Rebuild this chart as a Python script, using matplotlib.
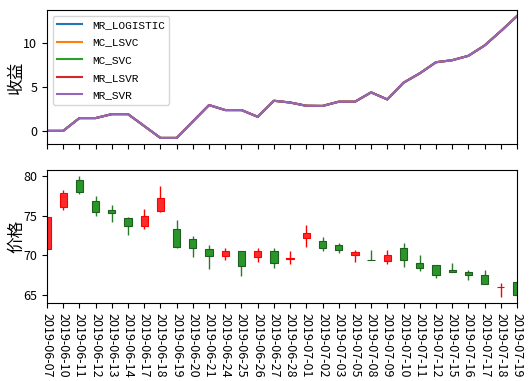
import matplotlib
matplotlib.use("Agg")
import matplotlib.pyplot as plt
import numpy as np

plt.rcParams['font.family'] = ['Noto Sans CJK SC', 'DejaVu Sans']
plt.rcParams['axes.unicode_minus'] = False

dates = ["2019-06-07", "2019-06-10", "2019-06-11", "2019-06-12", "2019-06-13",
         "2019-06-14", "2019-06-17", "2019-06-18", "2019-06-19", "2019-06-20",
         "2019-06-21", "2019-06-24", "2019-06-25", "2019-06-26", "2019-06-27",
         "2019-06-28", "2019-07-01", "2019-07-02", "2019-07-03", "2019-07-05",
         "2019-07-08", "2019-07-09", "2019-07-10", "2019-07-11", "2019-07-12",
         "2019-07-15", "2019-07-16", "2019-07-17", "2019-07-18", "2019-07-19"]

series_names = ["MR_LOGISTIC", "MC_LSVC", "MC_SVC", "MR_LSVR", "MR_SVR"]

mr_logistic = [0, 0, 1.45, 1.45, 1.9, 1.9, 0.55, -0.8, -0.8, 1.07, 2.93, 2.36, 2.36, 1.6, 3.42,
               3.22, 2.85, 2.83, 3.31, 3.31, 4.37, 3.57, 5.47, 6.53, 7.79, 8.02, 8.52, 9.69, 11.32, 13.03]
mc_lsvc = list(mr_logistic)
mc_svc = list(mr_logistic)
mr_lsvr = list(mr_logistic)
mr_svr = list(mr_logistic)

opens = [70.8, 76.1, 79.5, 76.9, 75.75, 74.75, 73.65, 75.6, 73.35, 72.0,
         70.75, 69.95, 70.5, 69.75, 70.6, 69.55, 72.2, 71.8, 71.25, 70.1,
         69.45, 69.25, 70.95, 69.05, 68.8, 68.2, 67.9, 67.5, 65.95, 66.65]
highs = [74.8, 78.3, 80.0, 77.5, 76.4, 74.8, 75.9, 78.8, 74.45, 72.4,
         71.25, 70.9, 70.5, 70.95, 70.95, 70.5, 73.8, 72.3, 71.55, 70.65,
         70.65, 70.7, 71.55, 70.0, 68.8, 69.0, 68.2, 68.2, 66.55, 66.65]
lows = [70.8, 75.7, 77.7, 74.9, 74.2, 72.6, 73.3, 75.5, 70.95, 69.8,
        68.3, 69.37, 67.4, 69.2, 68.45, 68.95, 71.1, 70.55, 70.25, 69.15,
        69.4, 68.85, 68.5, 68.0, 67.2, 67.9, 66.9, 66.4, 64.75, 65.0]
closes = [74.8, 77.8, 78.0, 75.5, 75.4, 73.7, 74.9, 77.2, 71.05, 70.95,
          69.9, 70.55, 68.65, 70.5, 69.0, 69.65, 72.8, 70.95, 70.65, 70.45,
          69.4, 70.1, 69.35, 68.45, 67.5, 67.95, 67.5, 66.4, 66.05, 65.0]

fig = plt.figure(figsize=(5.29, 3.81), dpi=100)
ax1 = fig.add_axes([0.0888, 0.622, 0.8885, 0.3518])
ax2 = fig.add_axes([0.0888, 0.2047, 0.8885, 0.3491], sharex=ax1)

x = np.arange(len(dates))
colors = ['#1f77b4', '#ff7f0e', '#2ca02c', '#d62728', '#9467bd']
for name, vals, c in zip(series_names, [mr_logistic, mc_lsvc, mc_svc, mr_lsvr, mr_svr], colors):
    ax1.plot(x, vals, color=c, lw=1.5, label=name)
ax1.set_ylabel('收益', fontsize=12)
ax1.yaxis.set_label_coords(-0.047, 0.5)
ax1.legend(loc='upper left', prop={'family': 'Liberation Mono', 'size': 8},
           handlelength=2.25, labelspacing=0.68, handletextpad=0.9)
ax1.tick_params(labelbottom=False, labelsize=9)

o = np.array(opens); h = np.array(highs); l = np.array(lows); c_ = np.array(closes)
up = c_ >= o
face = np.where(up, '#ff2a2a', '#2a962a')
edge = np.where(up, '#ff0000', '#1e5e1e')
wick = np.where(up, '#ff0000', '#2a7a2a')
ax2.vlines(x, l, h, colors=wick, lw=1.0, zorder=1)
body = np.where(np.abs(c_ - o) < 0.02, 0.02, c_ - o)
ax2.bar(x, body, bottom=o, width=0.45, color=face, edgecolor=edge, linewidth=0.8, zorder=2)
ax2.set_ylabel('价格', fontsize=12)
ax2.yaxis.set_label_coords(-0.047, 0.5)
ax2.set_xlim(0, len(dates) - 1)
ax2.set_xticks(x)
ax2.set_xticklabels(dates, rotation=-90, fontsize=9)
ax2.tick_params(labelsize=9)
ax2.set_yticks([65, 70, 75, 80])

fig.savefig('out.png', dpi=100)
